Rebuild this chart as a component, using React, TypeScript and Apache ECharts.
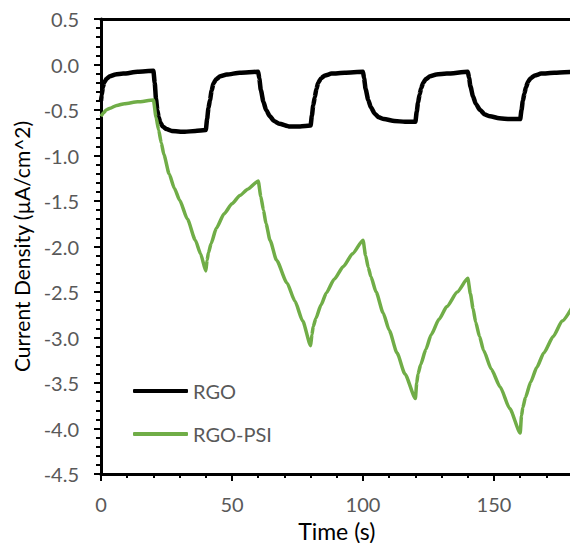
import React, { useEffect, useRef } from "react";
import * as echarts from "echarts";

const rgoTime = [0, 0.3, 0.7, 1.2, 2, 3.4, 5.5, 8.5, 14, 20,
  20.5, 21, 21.5, 22, 22.7, 23.5, 25, 27, 32, 36, 40,
  40.5, 41, 41.6, 42.2, 42.9, 44, 45.5, 48, 53, 60,
  60.4, 61, 62, 63, 64.5, 66, 68, 72, 76, 80,
  80.5, 81, 81.6, 82.2, 82.9, 84, 85.5, 88, 93, 100,
  100.4, 101, 102, 103, 104.5, 106, 108, 112, 116, 120,
  120.5, 121, 121.6, 122.2, 123, 124, 125.6, 128, 132, 140,
  140.5, 141, 142, 143, 144.7, 146.5, 148.5, 152, 156, 160,
  160.5, 161, 161.6, 162.2, 163, 164, 165.6, 168, 173, 180];
const rgoValues = [-0.4, -0.33, -0.25, -0.2, -0.16, -0.13, -0.11, -0.1, -0.08, -0.07,
  -0.2, -0.38, -0.5, -0.58, -0.64, -0.68, -0.71, -0.73, -0.74, -0.73, -0.72,
  -0.6, -0.48, -0.39, -0.29, -0.21, -0.16, -0.13, -0.11, -0.09, -0.08,
  -0.15, -0.28, -0.41, -0.5, -0.57, -0.62, -0.65, -0.68, -0.68, -0.67,
  -0.56, -0.45, -0.36, -0.27, -0.2, -0.15, -0.12, -0.1, -0.09, -0.08,
  -0.15, -0.27, -0.39, -0.47, -0.54, -0.58, -0.6, -0.62, -0.63, -0.63,
  -0.52, -0.42, -0.33, -0.26, -0.2, -0.16, -0.13, -0.11, -0.1, -0.08,
  -0.15, -0.24, -0.35, -0.43, -0.5, -0.55, -0.57, -0.59, -0.6, -0.6,
  -0.5, -0.4, -0.32, -0.25, -0.19, -0.15, -0.12, -0.1, -0.09, -0.08];

const psiTime = [0, 1, 2, 3.5, 6, 9, 14, 20,
  21, 22, 23, 24, 26, 28, 30, 33, 36, 38, 40,
  40.5, 41, 42, 44, 47, 50, 53, 56, 60,
  61, 62, 63, 64.5, 67, 71, 74, 77, 80,
  80.5, 81, 82, 84, 86, 89, 92.5, 96, 100,
  101, 102, 103, 105, 107.7, 110, 113, 116, 120,
  120.5, 121, 122, 124, 126, 129, 132, 136, 140,
  141, 142, 143, 144.5, 146, 149, 152.3, 156, 160,
  160.5, 161, 162, 164, 166.3, 169, 172.6, 176, 180];
const psiValues = [-0.57, -0.53, -0.5, -0.48, -0.45, -0.43, -0.41, -0.39,
  -0.58, -0.72, -0.86, -0.99, -1.2, -1.36, -1.49, -1.7, -1.93, -2.08, -2.27,
  -2.15, -2.07, -1.97, -1.8, -1.64, -1.53, -1.44, -1.37, -1.28,
  -1.45, -1.6, -1.75, -1.93, -2.15, -2.4, -2.6, -2.82, -3.09,
  -2.97, -2.88, -2.79, -2.64, -2.51, -2.36, -2.22, -2.08, -1.93,
  -2.1, -2.23, -2.33, -2.5, -2.73, -2.92, -3.17, -3.4, -3.67,
  -3.5, -3.4, -3.3, -3.13, -2.97, -2.8, -2.66, -2.5, -2.35,
  -2.52, -2.68, -2.83, -2.99, -3.14, -3.35, -3.54, -3.78, -4.05,
  -3.86, -3.77, -3.66, -3.49, -3.33, -3.17, -2.99, -2.82, -2.66];

const seriesNames = ["RGO", "RGO-PSI"];
const xTitle = "Time (s)";
const yTitle = "Current Density (µA/cm^2)";

const FONT = "Lato, 'Open Sans', sans-serif";

export default function App() {
  const ref = useRef<HTMLDivElement>(null);
  useEffect(() => {
    if (!ref.current) return;
    const chart = echarts.init(ref.current, null, { renderer: "svg" });
    const rgo = rgoTime.map((t, i) => [t, rgoValues[i]]);
    const psi = psiTime.map((t, i) => [t, psiValues[i]]);
    chart.setOption({
      animation: false,
      backgroundColor: "#ffffff",
      textStyle: { fontFamily: FONT },
      grid: {
        left: 101,
        top: 19,
        width: 471.6,
        height: 455,
        containLabel: false,
        outerBoundsMode: "none",
      },
      legend: {
        orient: "vertical",
        left: 128,
        top: 376,
        itemWidth: 55,
        itemHeight: 4,
        itemGap: 23,
        icon: "roundRect",
        textStyle: { fontFamily: FONT, fontSize: 20, color: "#595959" },
        data: seriesNames,
      },
      xAxis: [
        {
          type: "value",
          min: 0,
          max: 180,
          interval: 50,
          position: "bottom",
          name: xTitle,
          nameLocation: "middle",
          nameGap: 45,
          nameTextStyle: { fontFamily: FONT, fontSize: 23, color: "#000000" },
          axisLine: { show: true, onZero: false, lineStyle: { color: "#000", width: 3 } },
          axisTick: { show: true, length: 7, lineStyle: { color: "#000", width: 2 } },
          minorTick: { show: true, splitNumber: 5, length: 4, lineStyle: { color: "#000", width: 2 } },
          splitLine: { show: false },
          axisLabel: { fontFamily: FONT, fontSize: 20, color: "#595959", margin: 20, showMaxLabel: false },
        },
        {
          type: "value",
          min: 0,
          max: 180,
          position: "top",
          axisLine: { show: true, onZero: false, lineStyle: { color: "#000", width: 3 } },
          axisTick: { show: false },
          axisLabel: { show: false },
          splitLine: { show: false },
        },
      ],
      yAxis: {
        type: "value",
        min: -4.5,
        max: 0.5,
        interval: 0.5,
        name: yTitle,
        nameLocation: "middle",
        nameGap: 69,
        nameTextStyle: { fontFamily: FONT, fontSize: 21, color: "#000000" },
        axisLine: { show: true, onZero: false, lineStyle: { color: "#000", width: 3 } },
        axisTick: { show: true, length: 7, lineStyle: { color: "#000", width: 2 } },
        minorTick: { show: true, splitNumber: 5, length: 5, lineStyle: { color: "#000", width: 2 } },
        splitLine: { show: false },
        axisLabel: {
          fontFamily: FONT,
          fontSize: 20,
          color: "#595959",
          margin: 22,
          formatter: (v: number) => v.toFixed(1),
        },
      },
      series: [
        {
          name: seriesNames[0],
          type: "line",
          data: rgo,
          showSymbol: false,
          symbol: "none",
          smooth: 0.2,
          smoothMonotone: "x",
          lineStyle: { color: "#000000", width: 4.5 },
          itemStyle: { color: "#000000" },
          clip: true,
        },
        {
          name: seriesNames[1],
          type: "line",
          data: psi,
          showSymbol: false,
          symbol: "none",
          smooth: 0.2,
          smoothMonotone: "x",
          lineStyle: { color: "#70AD47", width: 3.5 },
          itemStyle: { color: "#70AD47" },
          clip: true,
        },
      ],
    });
    return () => chart.dispose();
  }, []);
  return (
    <div
      ref={ref}
      style={{ position: "fixed", left: 0, top: 0, width: 570, height: 543 }}
    />
  );
}
